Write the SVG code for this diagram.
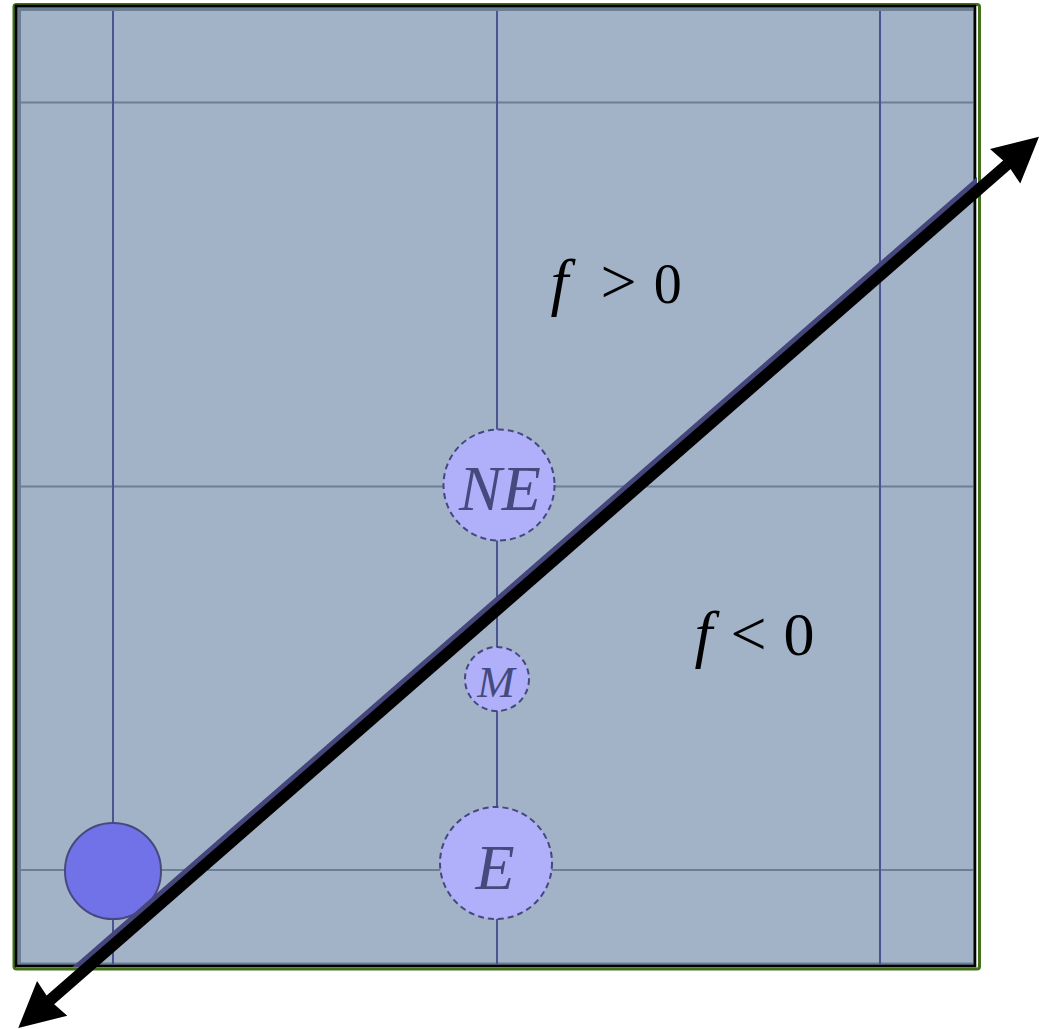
<svg xmlns="http://www.w3.org/2000/svg" width="1039" height="1029" viewBox="0 0 1039 1029">
<style>
.hgrid{stroke:#6c7e93;stroke-width:2;fill:none}
.vgrid{stroke:#4d5290;stroke-width:2;fill:none}
.node{fill:#b0b0fa;stroke:#45477e;stroke-width:2;stroke-dasharray:6 4}
.lbl{font-family:"Liberation Serif","Times New Roman",serif;font-style:italic;fill:#454a7e;text-anchor:middle}
.math{font-family:"Liberation Serif","Times New Roman",serif;fill:#000}
</style>
<defs>
<clipPath id="frameClip"><rect x="15" y="5" width="962" height="962"/></clipPath>
<marker id="head" viewBox="-10 -26 55 52" refX="0" refY="0" markerWidth="55" markerHeight="52" markerUnits="userSpaceOnUse" orient="auto-start-reverse">
<path d="M40,0 L-5,-23 L-2,0 L-5,23 Z" fill="#000"/>
</marker>
</defs>
<g id="frame">
<rect x="14" y="4.5" width="965.5" height="964.5" rx="2.5" fill="none" stroke="#43701a" stroke-width="3"/>
<rect x="16" y="6" width="959" height="960" fill="#6c7e93"/>
<rect x="21" y="11" width="952" height="951.5" fill="#a2b3c8"/>
<rect x="16" y="6" width="959" height="960" fill="none" stroke="#000" stroke-width="2.6"/>
</g>
<g id="grid">
<line class="hgrid" x1="21" y1="102.5" x2="973" y2="102.5"/>
<line class="hgrid" x1="21" y1="486.5" x2="973" y2="486.5"/>
<line class="hgrid" x1="21" y1="870" x2="973" y2="870"/>
<line class="vgrid" x1="113" y1="11" x2="113" y2="965"/>
<line class="vgrid" x1="497" y1="11" x2="497" y2="965"/>
<line class="vgrid" x1="880" y1="11" x2="880" y2="965"/>
</g>
<g id="node-P">
<circle cx="113" cy="871" r="48" fill="#7272e8" stroke="#48487f" stroke-width="2"/>
</g>
<g id="node-NE">
<circle class="node" cx="499" cy="485" r="55.5"/>
<text class="lbl" x="500" y="510" font-size="64">NE</text>
</g>
<g id="node-M">
<circle class="node" cx="497" cy="679" r="32"/>
<text class="lbl" x="496" y="697" font-size="45">M</text>
</g>
<g id="node-E">
<circle class="node" cx="496" cy="863" r="56"/>
<text class="lbl" x="495" y="889" font-size="64">E</text>
</g>
<g id="connectors">
<line x1="13.4" y1="1022.4" x2="1034.1" y2="131.1" stroke="#45467c" stroke-width="6" clip-path="url(#frameClip)"/>
<line x1="48.4" y1="1001.7" x2="1008.9" y2="163" stroke="#000" stroke-width="11.5" marker-start="url(#head)" marker-end="url(#head)"/>
</g>
<g id="labels">
<text class="math" y="302.5"><tspan x="550.5" font-size="64" font-style="italic">f</tspan><tspan x="600.5" font-size="64">&gt;</tspan><tspan x="653.7" font-size="56">0</tspan></text>
<text class="math" y="655"><tspan x="694.5" font-size="64" font-style="italic">f</tspan><tspan x="730.5" font-size="64">&lt;</tspan><tspan x="783.5" font-size="62">0</tspan></text>
</g>
</svg>
